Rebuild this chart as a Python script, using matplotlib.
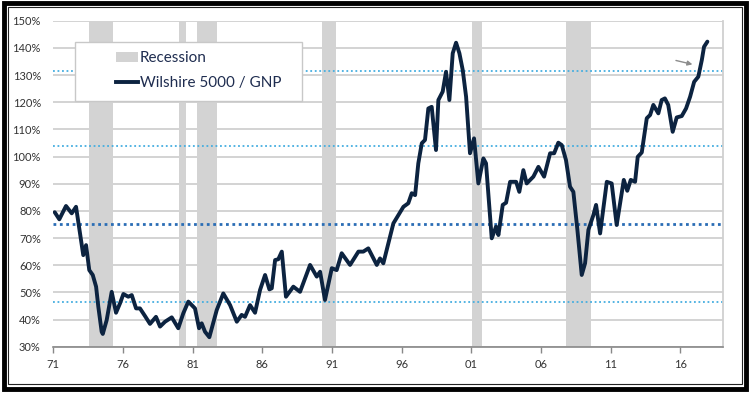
import matplotlib.pyplot as plt
from matplotlib.patches import Rectangle, Patch
from matplotlib.lines import Line2D

# Wilshire 5000 / GNP (%)
years = [1971.1, 1971.43, 1971.91, 1972.32, 1972.63, 1972.92, 1973.15, 1973.35, 1973.58, 1973.83,
         1974.07, 1974.23, 1974.47, 1974.55, 1974.83, 1975.19, 1975.5, 1975.79, 1976.03, 1976.38,
         1976.63, 1976.94, 1977.22, 1977.58, 1977.94, 1978.37, 1978.66, 1979.02, 1979.5, 1979.97,
         1980.33, 1980.69, 1981.17, 1981.46, 1981.65, 1981.89, 1982.2, 1982.73, 1983.2, 1983.69,
         1984.17, 1984.52, 1984.76, 1985.12, 1985.48, 1985.84, 1986.2, 1986.51, 1986.68, 1986.92,
         1987.15, 1987.4, 1987.7, 1988.23, 1988.71, 1989.43, 1989.91, 1990.15, 1990.5, 1990.99,
         1991.34, 1991.7, 1992.3, 1992.9, 1993.25, 1993.61, 1994.22, 1994.45, 1994.69, 1995.41,
         1996.13, 1996.48, 1996.73, 1996.97, 1997.2, 1997.45, 1997.68, 1997.92, 1998.16, 1998.47,
         1998.64, 1998.95, 1999.19, 1999.43, 1999.67, 1999.91, 2000.15, 2000.39, 2000.63, 2000.91,
         2001.2, 2001.51, 2001.87, 2002.06, 2002.47, 2002.78, 2002.95, 2003.26, 2003.5, 2003.79,
         2004.22, 2004.45, 2004.74, 2004.98, 2005.46, 2005.82, 2006.23, 2006.66, 2006.95, 2007.25,
         2007.5, 2007.8, 2008.09, 2008.33, 2008.62, 2008.93, 2009.17, 2009.41, 2009.77, 2009.96,
         2010.25, 2010.73, 2011.08, 2011.44, 2011.95, 2012.2, 2012.45, 2012.76, 2012.95, 2013.24,
         2013.6, 2013.84, 2014.07, 2014.43, 2014.67, 2014.9, 2015.14, 2015.46, 2015.75, 2016.11,
         2016.42, 2016.71, 2017.0, 2017.3, 2017.55, 2017.71, 2017.95]
ratio = [79.5, 76.9, 81.8, 79.1, 81.5, 71.7, 63.7, 67.4, 58.2, 56.4,
         52.1, 44.7, 35.5, 34.7, 39.8, 50.2, 42.5, 46.0, 49.4, 48.4,
         49.0, 44.1, 44.1, 41.3, 38.4, 41.0, 37.4, 39.2, 40.8, 36.8,
         42.3, 46.6, 44.1, 36.8, 38.6, 35.5, 33.5, 43.5, 49.6, 45.3,
         39.2, 41.7, 41.0, 45.3, 42.5, 50.9, 56.4, 51.1, 51.5, 61.9,
         62.2, 65.0, 48.4, 52.1, 50.2, 60.1, 55.8, 57.6, 47.2, 58.9,
         58.2, 64.4, 60.1, 65.0, 65.0, 66.2, 60.1, 62.5, 60.7, 75.4,
         81.5, 82.8, 86.5, 85.8, 97.5, 104.9, 106.1, 117.7, 118.3, 102.4,
         120.8, 123.9, 131.2, 120.8, 138.0, 141.9, 138.0, 131.8, 122.0, 101.2,
         106.7, 90.1, 99.3, 97.5, 69.9, 74.2, 71.1, 82.2, 83.0, 90.7,
         90.7, 87.0, 95.0, 90.1, 92.6, 96.2, 92.6, 101.2, 101.2, 105.1,
         104.2, 98.7, 88.9, 87.0, 73.0, 56.4, 60.7, 73.0, 78.5, 82.2,
         71.7, 90.7, 90.1, 74.8, 91.4, 87.4, 91.4, 90.7, 99.9, 101.5,
         114.1, 115.3, 119.0, 115.9, 120.8, 121.4, 119.0, 109.1, 114.4, 114.9,
         117.7, 122.0, 127.5, 129.4, 135.5, 140.4, 142.3]

# recession periods
rec_start = [1973.55, 1980.05, 1981.3, 1990.32, 2001.08, 2007.82]
rec_end = [1975.26, 1980.5, 1982.73, 1991.28, 2001.8, 2009.57]

# mean and +/- std lines
mean_line = 75
band_lines = [46.5, 104, 131.5]

tick_years = [1971, 1976, 1981, 1986, 1991, 1996, 2001, 2006, 2011, 2016]
tick_labels = ["71", "76", "81", "86", "91", "96", "01", "06", "11", "16"]

plt.rcParams['font.family'] = ['Lato', 'DejaVu Sans']

fig = plt.figure(figsize=(7.5, 3.93), dpi=100)
ax = fig.add_axes([0.0711, 0.1178, 0.8925, 0.8295])

for s, e in zip(rec_start, rec_end):
    ax.axvspan(s, e, color="#d3d3d3", lw=0, zorder=1)

for v in range(30, 151, 10):
    ax.axhline(v, color="#d0d0d0", lw=1.3, zorder=0)

for v in band_lines:
    ax.axhline(v, color="#45aee0", lw=1.3, ls=(0, (1, 1.5)), zorder=2)
ax.axhline(mean_line, color="#2a6db5", lw=2.0, ls=(0, (1, 1.3)), zorder=2)

ax.plot(years, ratio, color="#0c2340", lw=2.8, solid_joinstyle="round",
        solid_capstyle="round", zorder=3)

ax.annotate("", xy=(2017.07, 133.7), xytext=(2015.5, 135.6),
            arrowprops=dict(arrowstyle="-|>", color="#8c8c8c", lw=1.0, mutation_scale=7))

ax.set_xlim(1971, 2019.05)
ax.set_ylim(30, 150)
ax.set_yticks(range(30, 151, 10))
ax.set_yticklabels([f"{v}%" for v in range(30, 151, 10)])
ax.set_xticks(tick_years)
ax.set_xticklabels(tick_labels)
ax.tick_params(axis="y", length=0, pad=9, labelsize=8, labelcolor="#333333")
ax.tick_params(axis="x", length=4, width=1, color="#888888", direction="out",
               pad=5, labelsize=8, labelcolor="#333333")

for side in ["top", "left"]:
    ax.spines[side].set_visible(False)
ax.spines["right"].set_color("#d0d0d0")
ax.spines["right"].set_linewidth(1.3)
ax.spines["bottom"].set_color("#888888")
ax.spines["bottom"].set_linewidth(1.2)

# legend box
ax.add_patch(Rectangle((0.0324, 0.755), 0.339, 0.1787, transform=ax.transAxes,
                       facecolor="white", edgecolor="#c8c8c8", lw=1.0, zorder=4))
handles = [Patch(facecolor="#d3d3d3", edgecolor="none", label="Recession"),
           Line2D([0], [0], color="#0c2340", lw=2.8, label="Wilshire 5000 / GNP")]
leg = ax.legend(handles=handles, loc="upper left", bbox_to_anchor=(0.085, 0.925),
                frameon=False, fontsize=11, handlelength=1.4, handletextpad=0.15,
                labelspacing=0.7, borderaxespad=0)
leg.set_zorder(5)
for t in leg.get_texts():
    t.set_color("#1f2d50")

# outer frame
fig.patches.append(Rectangle((0.005, 0.009), 0.99, 0.983, transform=fig.transFigure,
                             fill=False, edgecolor="black", lw=3.5))
fig.patches.append(Rectangle((0.011, 0.022), 0.978, 0.961, transform=fig.transFigure,
                             fill=False, edgecolor="#222222", lw=0.8))

fig.savefig("out.png", dpi=100)
